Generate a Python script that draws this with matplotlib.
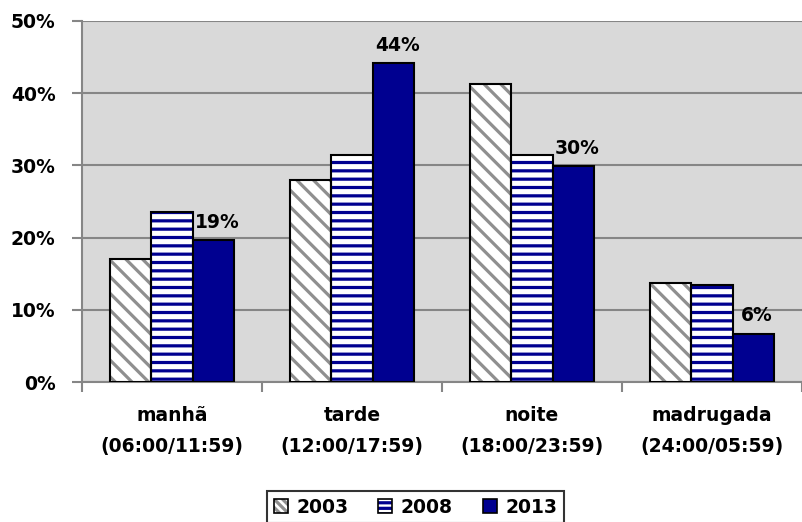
import numpy as np
import matplotlib
matplotlib.use("Agg")
import matplotlib.pyplot as plt
from matplotlib.patches import Patch
from matplotlib.ticker import FuncFormatter, FixedLocator

categories = ["manhã\n(06:00/11:59)", "tarde\n(12:00/17:59)",
              "noite\n(18:00/23:59)", "madrugada\n(24:00/05:59)"]
years = ["2003", "2008", "2013"]
v2003 = [17.0, 28.0, 41.3, 13.7]
v2008 = [23.6, 31.4, 31.4, 13.4]
v2013 = [19.6, 44.2, 29.9, 6.7]
labels2013 = ["19%", "44%", "30%", "6%"]

navy = "#000090"
hatch_gray = "#8f8f8f"

plt.rcParams["font.family"] = ["DejaVu Sans"]
plt.rcParams["font.weight"] = "bold"
plt.rcParams["hatch.linewidth"] = 2.3

fig = plt.figure(figsize=(8.02, 5.22), dpi=100)
ax = fig.add_axes([82 / 802, 1 - 382 / 522, 1 - 82 / 802, (382 - 21) / 522])
ax.set_facecolor("#d9d9d9")

x = np.arange(len(categories))
w = 0.228

# 2003: white with grey diagonal stripes
ax.bar(x - w, v2003, w, color="white", edgecolor=hatch_gray, hatch="\\\\", linewidth=0, zorder=3)
ax.bar(x - w, v2003, w, color="none", edgecolor="black", linewidth=1.5, zorder=4)
# 2008: white with navy horizontal stripes
ax.bar(x, v2008, w, color="white", edgecolor=navy, hatch="--", linewidth=0, zorder=3)
ax.bar(x, v2008, w, color="none", edgecolor="black", linewidth=1.5, zorder=4)
# 2013: solid navy
ax.bar(x + w, v2013, w, color=navy, edgecolor="black", linewidth=1.5, zorder=4)

for xi, v, lab in zip(x, v2013, labels2013):
    ax.annotate(lab, (xi + w, v), xytext=(3, 6), textcoords="offset points",
                ha="center", va="bottom", fontsize=13.5, fontweight="bold")

ax.set_ylim(0, 50)
ax.set_xlim(-0.5, len(categories) - 0.5)
ax.set_yticks([0, 10, 20, 30, 40, 50])
ax.yaxis.set_major_formatter(FuncFormatter(lambda v, p: f"{v:.0f}%"))
ax.yaxis.grid(True, color="#868686", linewidth=1.5, zorder=1)
ax.set_axisbelow(True)

ax.set_xticks(x)
ax.set_xticklabels(categories, fontsize=13.5, fontweight="bold", linespacing=1.85)
ax.tick_params(axis="x", which="major", length=0, pad=17)
ax.xaxis.set_minor_locator(FixedLocator(np.arange(-0.5, len(categories), 1.0)))
ax.tick_params(axis="x", which="minor", length=7, width=1.5, color="#868686")
ax.tick_params(axis="y", length=7, width=1.5, color="#868686", labelsize=13.5, pad=12)

for s in ["top", "right"]:
    ax.spines[s].set_visible(False)
for s in ["left", "bottom"]:
    ax.spines[s].set_color("#868686")
    ax.spines[s].set_linewidth(1.5)

border = dict(facecolor="none", edgecolor="black", linewidth=1.2)
handles = [
    (Patch(facecolor="white", edgecolor=hatch_gray, hatch="\\\\\\\\", linewidth=0), Patch(**border)),
    (Patch(facecolor="white", edgecolor=navy, hatch="---", linewidth=0), Patch(**border)),
    Patch(facecolor=navy, edgecolor="black", linewidth=1.2),
]
leg = fig.legend(handles, years, loc="upper center", bbox_to_anchor=(415.5 / 802, 1 - 491 / 522),
                 ncol=3, frameon=True, fancybox=False, edgecolor="black",
                 handlelength=0.75, handleheight=0.75, handletextpad=0.45,
                 columnspacing=1.6, borderpad=0.35, borderaxespad=0,
                 prop={"weight": "bold", "size": 13.5})
leg.get_frame().set_linewidth(1.5)

fig.savefig("out.png", dpi=100)
